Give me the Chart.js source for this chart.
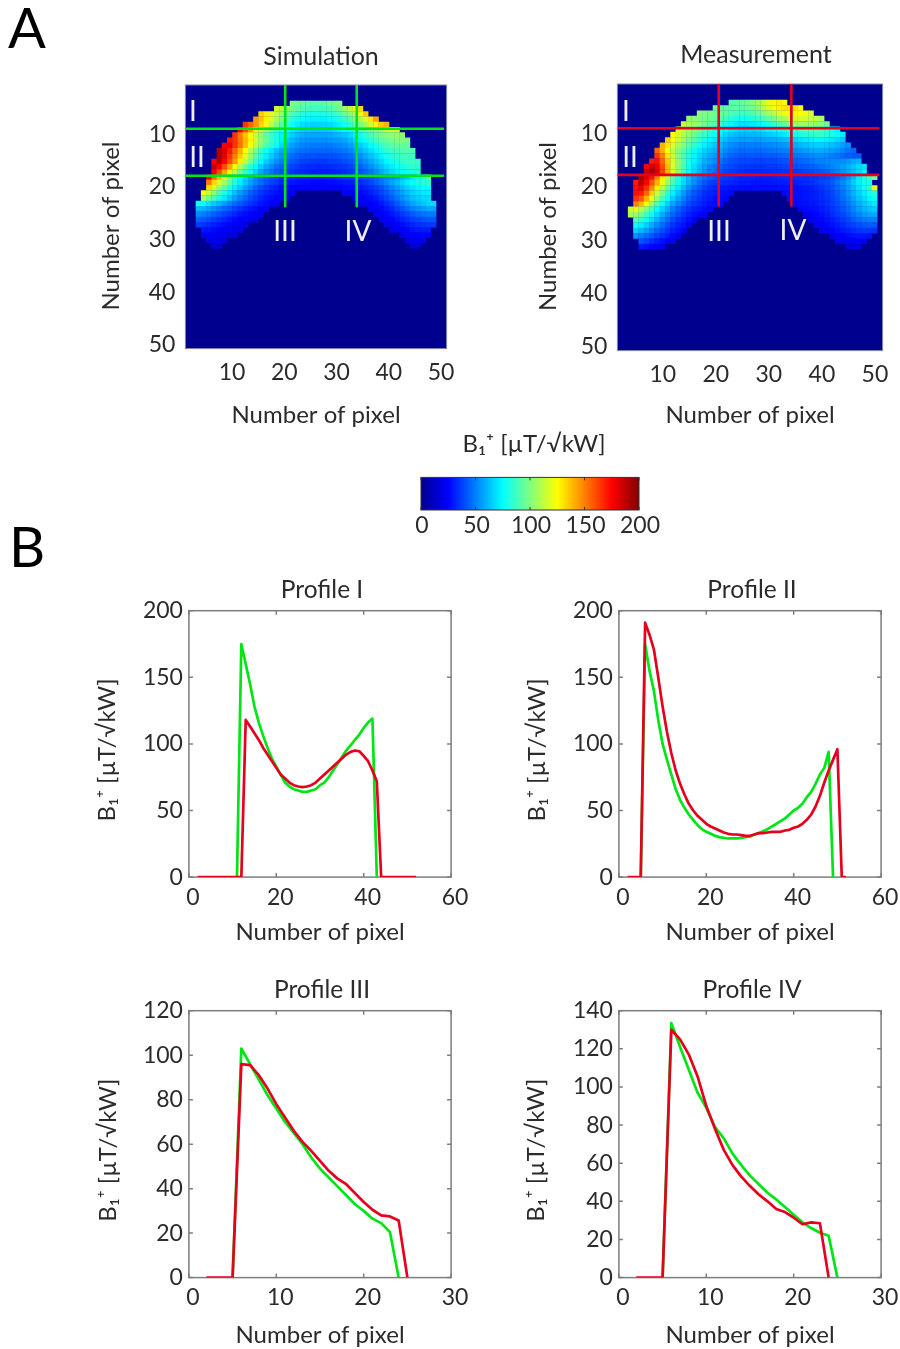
<!DOCTYPE html>
<html>
<head>
<meta charset="utf-8">
<script src="https://cdn.jsdelivr.net/npm/chart.js@4"></script>
<style>
  html, body { margin: 0; padding: 0; background: #fff; }
  #page { position: relative; width: 900px; height: 1349px; overflow: hidden; font-family: Lato, sans-serif; }
  canvas { position: absolute; }
  .letter { position: absolute; font-size: 56px; line-height: 56px; color: #000; transform: translate(-50%, -50%); }
  .mark { position: absolute; font-size: 28px; line-height: 28px; color: #eef0f6; transform: translate(-50%, -50%); z-index: 2; }
</style>
</head>
<body>
<div id="page">
  <div class="letter" style="left:27px;top:27px">A</div>
  <div class="letter" style="left:27px;top:546px">B</div>
  <div class="mark" style="left:193px;top:110px">I</div>
  <div class="mark" style="left:197px;top:156px">II</div>
  <div class="mark" style="left:285px;top:230px">III</div>
  <div class="mark" style="left:358px;top:230px">IV</div>
  <div class="mark" style="left:626px;top:110px">I</div>
  <div class="mark" style="left:630px;top:156px">II</div>
  <div class="mark" style="left:719px;top:230px">III</div>
  <div class="mark" style="left:793px;top:229px">IV</div>
</div>
<script>
// heat map rows: [row, first column, values from that column on]
const simRows = [
  [4,21,100,97,95,93,92,92,93,95,98,102],
  [5,18,118,110,103,97,93,90,88,87,87,88,89,92,97,104,112,122,133],
  [6,15,135,128,120,112,104,96,90,85,82,80,79,79,80,82,85,89,95,102,111,121,135],
  [7,14,145,137,128,118,108,98,89,84,79,76,74,73,73,73,75,77,81,86,92,100,109,118,130,143],
  [8,12,165,155,145,133,122,111,100,90,82,76,72,69,67,66,66,67,68,70,73,78,84,90,97,106,116,126,135,140],
  [9,11,175,160,145,128,116,106,97,89,83,77,71,68,66,65,64,64,65,66,69,71,75,80,85,90,95,99,103,107,112,116,119],
  [10,10,165,150,137,125,113,103,94,86,79,73,70,66,62,60,59,58,58,58,59,60,62,64,68,73,79,84,89,94,98,101,103,104,102],
  [11,9,170,165,152,140,127,115,104,95,87,80,72,65,60,57,55,54,53,53,53,54,55,56,58,62,67,73,78,83,88,92,95,98,100,100,98],
  [12,8,175,178,165,152,138,124,112,100,91,83,75,67,60,56,53,51,50,49,49,49,49,50,51,53,56,60,65,70,75,80,85,89,92,94,95,94],
  [13,7,190,182,170,155,140,125,110,97,86,77,70,63,58,54,51,48,47,46,45,45,45,45,46,47,48,51,55,59,64,69,74,79,83,86,89,90,91,90],
  [14,7,192,180,165,150,135,120,105,92,81,72,65,59,54,49,46,44,42,41,41,40,40,41,41,42,44,46,49,53,58,63,68,73,78,82,85,87,88,87],
  [15,6,175,190,175,160,145,128,112,98,85,74,65,59,53,49,45,42,40,38,37,36,36,36,37,37,38,40,42,45,49,53,58,63,68,73,77,81,84,86,87,86],
  [16,6,185,175,160,143,126,110,96,84,74,65,58,52,47,44,41,38,36,34,33,33,32,33,33,34,35,36,38,41,44,48,53,58,63,68,72,76,79,82,84,84],
  [17,6,178,160,143,127,112,98,85,75,66,58,52,47,43,40,37,35,33,32,31,30,30,30,30,31,32,33,35,38,41,44,48,53,58,63,68,72,75,78,80,82],
  [18,5,175,155,140,118,100,88,77,66,58,52,47,43,39,36,34,32,31,30,29,29,29,29,29,30,30,32,33,34,36,38,40,42,44,47,50,52,55,60,64,70,77,82,94],
  [19,5,150,133,118,105,93,82,72,64,57,51,46,41,38,35,32,30,29,28,27,27,26,26,26,27,27,28,29,30,32,33,36,39,43,47,52,57,62,67,72,76,79,82,84],
  [20,5,132,118,105,93,82,72,64,57,51,45,40,36,33,30,28,26,25,25,24,24,24,24,24,24,24,25,26,27,28,29,31,34,37,41,46,51,56,61,66,70,73,76,76],
  [21,4,125,113,102,90,80,71,63,56,50,44,40,36,32,30,28,26,25,24],
  [21,31,24,24,25,26,28,31,34,38,42,47,52,57,62,66,69,72,72],
  [22,4,108,98,88,79,71,63,56,50,45,40,36,32,29,27,25,24,22],
  [22,33,22,23,25,27,30,34,38,43,48,53,58,62,65,68,68],
  [23,3,78,75,70,65,60,55,50,46,42,38,35,32,29,27,25,24],
  [23,34,22,23,24,26,29,33,37,42,47,52,57,61,64,67,68],
  [24,3,62,60,57,53,49,45,42,38,35,32,29,27,25,24],
  [24,36,22,24,26,29,32,37,41,46,50,53,56,58,58],
  [25,3,52,50,47,44,41,38,35,32,29,27,25,24,23],
  [25,37,22,24,26,29,32,36,39,43,46,48,49,49],
  [26,3,44,42,40,37,34,32,29,27,25,24,22,21],
  [26,38,21,23,25,28,31,34,37,39,41,42,42],
  [27,3,36,35,33,31,29,27,25,24,22,21],
  [27,39,20,22,24,27,30,32,34,35,36,36],
  [28,4,29,28,27,25,24,22,21,20],
  [28,40,19,21,24,26,28,30,30,30],
  [29,4,25,24,23,22,21,20,19],
  [29,42,20,22,24,25,26,25],
  [30,5,21,20,19,18],
  [30,43,19,20,21,21],
  [31,6,17,16],
  [31,44,17,17]
];
const measRows = [
  [4,22,92,93,95,97,100,105,112,120,126,128,126],
  [5,19,98,96,94,93,93,93,95,98,103,110,118,124,128,130,131,130,125],
  [6,16,102,100,98,97,95,93,90,88,87,88,90,95,100,106,112,118,122,125,125,125,122,118],
  [7,14,103,102,100,98,96,93,91,87,82,79,78,79,81,84,88,93,98,104,109,113,117,117,116,114,112,108],
  [8,13,115,110,106,102,98,94,90,85,79,74,71,70,70,71,73,76,80,85,90,95,100,105,106,106,105,103,100,97],
  [9,12,118,113,108,103,97,92,87,82,77,74,71,69,68,67,68,69,71,74,77,80,83,86,89,92,94,95,94,91,87,80,72],
  [10,11,125,118,110,103,96,90,85,80,76,72,67,64,62,61,61,61,62,63,65,67,69,71,74,78,80,82,84,85,85,83,80,76,72],
  [11,10,135,125,115,106,98,91,85,79,74,70,66,61,58,57,56,56,56,56,57,58,59,60,62,64,67,69,71,73,74,74,73,71,68,64],
  [12,9,140,130,118,108,100,92,85,79,73,68,64,61,56,53,51,50,50,50,50,51,52,53,54,55,57,59,61,63,65,66,66,65,63,60,57,53],
  [13,8,155,140,125,112,100,92,84,77,71,66,62,59,57,52,49,47,46,46,46,46,46,47,48,49,50,51,53,54,56,58,59,59,58,56,54,51,48,45],
  [14,8,165,150,130,115,100,90,82,74,68,63,59,55,53,48,45,43,42,42,42,42,42,43,43,44,45,46,48,49,50,52,53,53,52,50,48,46,44,42,42],
  [15,7,170,172,155,135,118,103,91,81,73,66,60,56,52,48,44,41,40,39,39,38,38,38,39,39,40,41,42,44,45,46,48,50,51,52,52,52,53,55,58,60],
  [16,6,175,185,178,160,138,118,102,89,78,69,62,56,51,47,44,41,39,37,36,35,35,35,35,36,36,37,38,39,40,41,42,44,45,47,49,51,53,56,59,63,67,70],
  [17,6,185,192,182,162,140,120,103,89,77,68,60,54,49,45,42,38,36,35,34,33,33,33,33,33,34,34,35,35,36,37,38,39,41,42,44,47,50,54,58,63,68,74],
  [18,5,191,182,171,150,128,109,93,80,70,62,55,50,46,43,40,38,36,35,33,32,32,32,31,31,31,32,33,33,33,34,34,34,35,35,37,38,40,43,47,53,61,71,80,88,96],
  [19,4,170,188,175,158,140,122,105,90,78,68,60,53,47,42,38,36,34,33,32,31,30,30,29,29,29,29,30,30,30,31,31,32,33,34,36,38,40,43,47,52,58,65,72,78,80],
  [20,4,172,178,165,147,128,110,95,82,71,62,54,47,42,38,35,32,30,29,28,28,27,27,27,27,27,27,27,28,28,28,28,29,30,31,33,35,38,41,45,50,56,62,69,76,85,120],
  [21,4,172,170,155,135,115,98,84,73,63,55,48,42,38,34,32,30,28,27,26],
  [21,32,26,27,29,28,29,30,31,33,36,39,43,48,54,60,66,72,78,82],
  [22,4,165,158,140,120,103,88,76,66,57,50,44,39,35,32,30,28,27,26],
  [22,33,27,28,28,29,30,31,33,35,38,41,46,51,57,63,68,73,77],
  [23,4,150,140,122,105,90,77,66,58,51,45,40,36,33,30,28,27,26],
  [23,34,26,27,28,29,30,32,34,37,40,44,49,54,59,64,68,71],
  [24,3,115,120,112,100,88,76,66,58,50,44,39,35,31,29,27,26],
  [24,35,24,26,27,28,30,32,35,38,42,46,51,56,60,63,65],
  [25,3,108,105,97,87,77,67,58,51,45,40,35,31,28,26,25],
  [25,36,23,25,26,28,30,33,36,39,43,47,51,55,57,58],
  [26,4,92,85,77,68,60,52,46,40,35,31,28,25],
  [26,37,22,24,26,28,30,33,36,39,43,46,49,50,50],
  [27,4,78,72,66,59,52,46,40,35,31,28,25],
  [27,38,22,24,26,28,30,33,36,38,40,42,43,42],
  [28,4,66,61,56,50,45,40,35,31,28,25],
  [28,39,21,23,25,27,29,31,33,35,36,36,34],
  [29,4,54,50,46,42,38,34,30,27,24],
  [29,41,21,23,25,27,28,29,29,28],
  [30,5,42,38,34,31,28,25,23],
  [30,42,20,21,22,23,24,23],
  [31,5,30,28,26,24,21],
  [31,44,17,18,18]
];

// cut lines on the maps, in pixel numbers
const simHLines = [8.8, 17.7];
const simVLines = [19.6, 33.3];
const simHEnd = 50;
const simVEnd = 23.5;
const measHLines = [8.8, 17.55];
const measVLines = [19.6, 33.3];
const measHEnd = 49.9;
const measVEnd = 23.3;

const pixelTicks = [10, 20, 30, 40, 50];
const colorbarTicks = [0, 50, 100, 150, 200];

const jetPos = [0, 0.125, 0.375, 0.625, 0.875, 1];
const jetRgb = [[0,0,143],[0,0,255],[0,255,255],[255,255,0],[255,0,0],[128,0,0]];

// profiles
const xLong = [2,3,4,5,6,7,8,9,10,11,12,13,14,15,16,17,18,19,20,21,22,23,24,25,26,27,28,29,30,31,32,33,34,35,36,37,38,39,40,41,42,43,44,45,46,47,48,49,50,51,52];
const xShort = [2,3,4,5,6,7,8,9,10,11,12,13,14,15,16,17,18,19,20,21,22,23,24,25];

const profile1Green = [null,null,null,null,null,null,null,null,null,0,175,160,145,128,116,106,97,89,83,77,71,68,66,65,64,64,65,66,69,71,75,80,85,90,95,99,103,107,112,116,119,0,null,null,null,null,null,null,null,null,null];
const profile1Red = [0,0,0,0,0,0,0,0,0,0,0,118,113,108,103,97,92,87,82,77,74,71,69,68,67.5,68,69,71,74,77,80,83,86,89,92,94,95,94.5,91,87,80,72,0,0,0,0,0,0,0,0,0];
const profile2Green = [null,null,null,0,175,155,140,118,100,88,77,66,58,52,47,43,39,36,34,32.5,31,30,29.5,29,29,29,29.5,30,30.5,32,33,34.5,36,38,40,42,44,47,50,52,55,60,64,70,77,82,94,0,null,null,null];
const profile2Red = [0,0,0,0,191,182,171,150,128,109,93,80,70,62,55,50,46,43,40,38,36.5,35,33.5,32.5,32,32,31.5,31,31,32,33,33,33.5,34,34,34,35,35.5,37,38,40,43,47,53,61,71,80,88,96,0,0];
const profile3Green = [null,null,null,0,103,96,89,82,76,70,65,60,54,49,45,41,37,33,30,26.5,24.5,20.5,0,null];
const profile3Red = [0,0,0,0,96,95.5,91,85,78,72,66,61,57,52.5,48,44.5,42,38,34,30.5,28,27.5,25.7,0];
const profile4Green = [null,null,null,0,133.5,121,109,97,89,79,73,65,59,53.5,49,44.5,41,37,33,29,26,23.5,22,0];
const profile4Red = [0,0,0,0,130,125,117,105.5,90,78,67,59,53,48,43.6,40,36,34.4,31.4,28,29,28.5,0,null];

const xTicks60 = [0, 20, 40, 60];
const xTicks30 = [0, 10, 20, 30];
const yTicks200 = [0, 50, 100, 150, 200];
const yTicks120 = [0, 20, 40, 60, 80, 100, 120];
const yTicks140 = [0, 20, 40, 60, 80, 100, 120, 140];

const GREEN = "#00e614";
const RED = "#e6001e";
const TEXT = "#2b2b2b";
const B1_LABEL = "B\u2081\u207A [\u00B5T/\u221AkW]";
const FONT = "Lato";
const TICK_SIZE = 23;
const AXIS_SIZE = 24;

function jet(v) {
  const t = Math.min(1, v / 200);
  let i = 0;
  while (i < jetPos.length - 2 && t > jetPos[i + 1]) i++;
  const f = (t - jetPos[i]) / (jetPos[i + 1] - jetPos[i]);
  const c = jetRgb[i].map((a, k) => Math.round(a + (jetRgb[i + 1][k] - a) * f));
  return "rgb(" + c.join(",") + ")";
}

function expandRows(rows) {
  const cells = [];
  rows.forEach((r) => {
    r.slice(2).forEach((v, i) => cells.push({ x: r[1] + i, y: r[0], v }));
  });
  return cells;
}

const framePlugin = {
  id: "frame",
  beforeDatasetsDraw(chart, args, opts) {
    const a = chart.chartArea;
    const ctx = chart.ctx;
    ctx.save();
    if (opts.fill) {
      ctx.fillStyle = opts.fill;
      ctx.fillRect(a.left, a.top, a.width, a.height);
    }
    if (opts.gradient) {
      const s = chart.scales.x;
      const g = ctx.createLinearGradient(s.getPixelForValue(0), 0, s.getPixelForValue(200), 0);
      jetPos.forEach((p) => g.addColorStop(p, jet(p * 200)));
      ctx.fillStyle = g;
      ctx.fillRect(a.left, a.top, a.width, a.height);
    }
    ctx.strokeStyle = opts.color;
    ctx.lineWidth = opts.width;
    ctx.strokeRect(a.left, a.top, a.width, a.height);
    if (opts.tick) {
      ctx.beginPath();
      chart.scales.x.ticks.forEach((t) => {
        const px = chart.scales.x.getPixelForValue(t.value);
        ctx.moveTo(px, a.bottom); ctx.lineTo(px, a.bottom - opts.tick);
        ctx.moveTo(px, a.top); ctx.lineTo(px, a.top + opts.tick);
      });
      if (opts.yTicks) {
        chart.scales.y.ticks.forEach((t) => {
          const py = chart.scales.y.getPixelForValue(t.value);
          ctx.moveTo(a.left, py); ctx.lineTo(a.left + opts.tick, py);
          ctx.moveTo(a.right, py); ctx.lineTo(a.right - opts.tick, py);
        });
      }
      ctx.stroke();
    }
    ctx.restore();
  }
};

// places one chart so its plot area lands on the given box
function place(id, c) {
  const lh = c.titleSize * 1.2;
  const axisLh = AXIS_SIZE * 1.2;
  const left = c.yTitleX ? c.yTitleX - axisLh / 2 : c.box.l - 60;
  const right = 2 * c.titleX - left;
  const top = c.titleY - lh / 2;
  const xHeight = c.xTitleY ? c.xTitleY - c.box.b + axisLh / 2 : 45;
  const canvas = document.createElement("canvas");
  canvas.id = id;
  canvas.width = right - left;
  canvas.height = c.box.b + xHeight - top;
  canvas.style.left = left + "px";
  canvas.style.top = top + "px";
  document.getElementById("page").appendChild(canvas);

  const axis = (ticks, size, pad, offset, title, fit) => ({
    type: "linear",
    min: c.limits[size === "x" ? 0 : 2],
    max: c.limits[size === "x" ? 1 : 3],
    reverse: size === "y" && !!c.reverseY,
    grid: { display: false, drawTicks: false },
    border: { display: false },
    afterBuildTicks: (s) => { s.ticks = (ticks || []).map((v) => ({ value: v })); },
    afterFit: fit,
    ticks: {
      display: !!ticks,
      padding: pad,
      labelOffset: offset,
      autoSkip: false,
      maxRotation: 0,
      color: TEXT,
      font: { family: FONT, size: TICK_SIZE },
      callback: (v) => String(v)
    },
    title: {
      display: !!title,
      text: title,
      color: TEXT,
      padding: 0,
      font: { family: FONT, size: AXIS_SIZE }
    }
  });

  const rightGap = axis(null, "y", 0, 0, null, (s) => { s.width = right - c.box.r; });
  rightGap.position = "right";

  return new Chart(canvas, {
    type: "scatter",
    data: { datasets: c.datasets },
    plugins: [framePlugin],
    options: {
      responsive: false,
      animation: false,
      events: [],
      layout: { autoPadding: false, padding: 0 },
      scales: {
        x: axis(c.xTicks, "x", c.xPad, c.xOffset, c.xTitle, (s) => {
          s.height = xHeight;
          s.paddingLeft = 0;
          s.paddingRight = 0;
        }),
        y: axis(c.yTicks, "y", c.yPad, c.yOffset, c.yTitle, (s) => { s.width = c.box.l - left; }),
        gap: rightGap
      },
      plugins: {
        legend: { display: false },
        tooltip: { enabled: false },
        title: {
          display: true,
          text: c.title,
          color: TEXT,
          padding: { top: 0, bottom: c.box.t - top - lh },
          font: { family: FONT, size: c.titleSize, weight: "normal" }
        },
        frame: c.frame
      }
    }
  });
}

function lineSet(points, color, order, width) {
  return {
    data: points,
    showLine: true,
    borderColor: color,
    borderWidth: width,
    borderJoinStyle: "round",
    pointRadius: 0,
    tension: 0,
    order
  };
}

function mapSets(rows, hLines, hEnd, vLines, vEnd, color) {
  const cells = expandRows(rows);
  const sets = [{
    data: cells,
    showLine: false,
    pointStyle: "rect",
    pointRadius: 3.95,
    pointBorderWidth: 0,
    pointBackgroundColor: cells.map((p) => jet(p.v)),
    order: 5
  }];
  hLines.forEach((y) => sets.push(lineSet([{ x: 0.5, y }, { x: hEnd, y }], color, 1, 2.6)));
  vLines.forEach((x) => sets.push(lineSet([{ x, y: 0.5 }, { x, y: vEnd }], color, 1, 2.6)));
  return sets;
}

function profileSets(xs, green, red) {
  return [
    lineSet(xs.map((x, i) => ({ x, y: red[i] })), RED, 1, 2.7),
    lineSet(xs.map((x, i) => ({ x, y: green[i] })), GREEN, 2, 2.7)
  ];
}

const mapFrame = { color: "#8288a8", width: 1, fill: "#00008f" };
const lineFrame = { color: "#7d7d7d", width: 1.5, tick: 4, yTicks: true };

place("sim", {
  box: { l: 185, r: 447, t: 85, b: 349 },
  limits: [0.5, 50.5, 0.5, 50.5],
  reverseY: true,
  title: "Simulation", titleSize: 25, titleX: 321, titleY: 57,
  xTitle: "Number of pixel", xTitleY: 416,
  yTitle: "Number of pixel\u00A0\u00A0\u00A0", yTitleX: 111,
  xTicks: pixelTicks, yTicks: pixelTicks, xPad: 10, yPad: 10, xOffset: -3, yOffset: -1,
  datasets: mapSets(simRows, simHLines, simHEnd, simVLines, simVEnd, GREEN),
  frame: mapFrame
});

place("meas", {
  box: { l: 617, r: 883, t: 84, b: 351 },
  limits: [0.5, 50.5, 0.5, 50.5],
  reverseY: true,
  title: "Measurement", titleSize: 25, titleX: 756, titleY: 55,
  xTitle: "Number of pixel", xTitleY: 416,
  yTitle: "Number of pixel\u00A0\u00A0\u00A0", yTitleX: 548,
  xTicks: pixelTicks, yTicks: pixelTicks, xPad: 10, yPad: 10, xOffset: -5, yOffset: -1,
  datasets: mapSets(measRows, measHLines, measHEnd, measVLines, measVEnd, RED),
  frame: mapFrame
});

place("colorbar", {
  box: { l: 421, r: 639, t: 477, b: 510 },
  limits: [0, 200, 0, 1],
  title: B1_LABEL, titleSize: 24, titleX: 534, titleY: 444,
  xTicks: colorbarTicks, xPad: 2, xOffset: 1, yOffset: 0,
  datasets: [],
  frame: { color: "#333333", width: 1, tick: 3, gradient: true }
});

place("profile1", {
  box: { l: 188.5, r: 451.5, t: 611, b: 877.5 },
  limits: [0, 60, 0, 200],
  title: "Profile I", titleSize: 24.5, titleX: 322, titleY: 590,
  xTitle: "Number of pixel", xTitleY: 933,
  yTitle: B1_LABEL + "\u00A0\u00A0", yTitleX: 107,
  xTicks: xTicks60, yTicks: yTicks200, xPad: 7, yPad: 6, xOffset: 4, yOffset: 0,
  datasets: profileSets(xLong, profile1Green, profile1Red),
  frame: lineFrame
});

place("profile2", {
  box: { l: 618.5, r: 881.5, t: 611, b: 877.5 },
  limits: [0, 60, 0, 200],
  title: "Profile II", titleSize: 24.5, titleX: 752, titleY: 590,
  xTitle: "Number of pixel", xTitleY: 933,
  yTitle: B1_LABEL + "\u00A0\u00A0", yTitleX: 537,
  xTicks: xTicks60, yTicks: yTicks200, xPad: 7, yPad: 6, xOffset: 4, yOffset: 0,
  datasets: profileSets(xLong, profile2Green, profile2Red),
  frame: lineFrame
});

place("profile3", {
  box: { l: 188.5, r: 451.5, t: 1011, b: 1278 },
  limits: [0, 30, 0, 120],
  title: "Profile III", titleSize: 24.5, titleX: 322, titleY: 990,
  xTitle: "Number of pixel", xTitleY: 1336,
  yTitle: B1_LABEL + "\u00A0\u00A0", yTitleX: 108,
  xTicks: xTicks30, yTicks: yTicks120, xPad: 6, yPad: 6, xOffset: 4, yOffset: 0,
  datasets: profileSets(xShort, profile3Green, profile3Red),
  frame: lineFrame
});

place("profile4", {
  box: { l: 618.5, r: 881.5, t: 1011, b: 1278 },
  limits: [0, 30, 0, 140],
  title: "Profile IV", titleSize: 24.5, titleX: 752, titleY: 990,
  xTitle: "Number of pixel", xTitleY: 1336,
  yTitle: B1_LABEL + "\u00A0\u00A0", yTitleX: 536,
  xTicks: xTicks30, yTicks: yTicks140, xPad: 6, yPad: 6, xOffset: 4, yOffset: 0,
  datasets: profileSets(xShort, profile4Green, profile4Red),
  frame: lineFrame
});
</script>
</body>
</html>
